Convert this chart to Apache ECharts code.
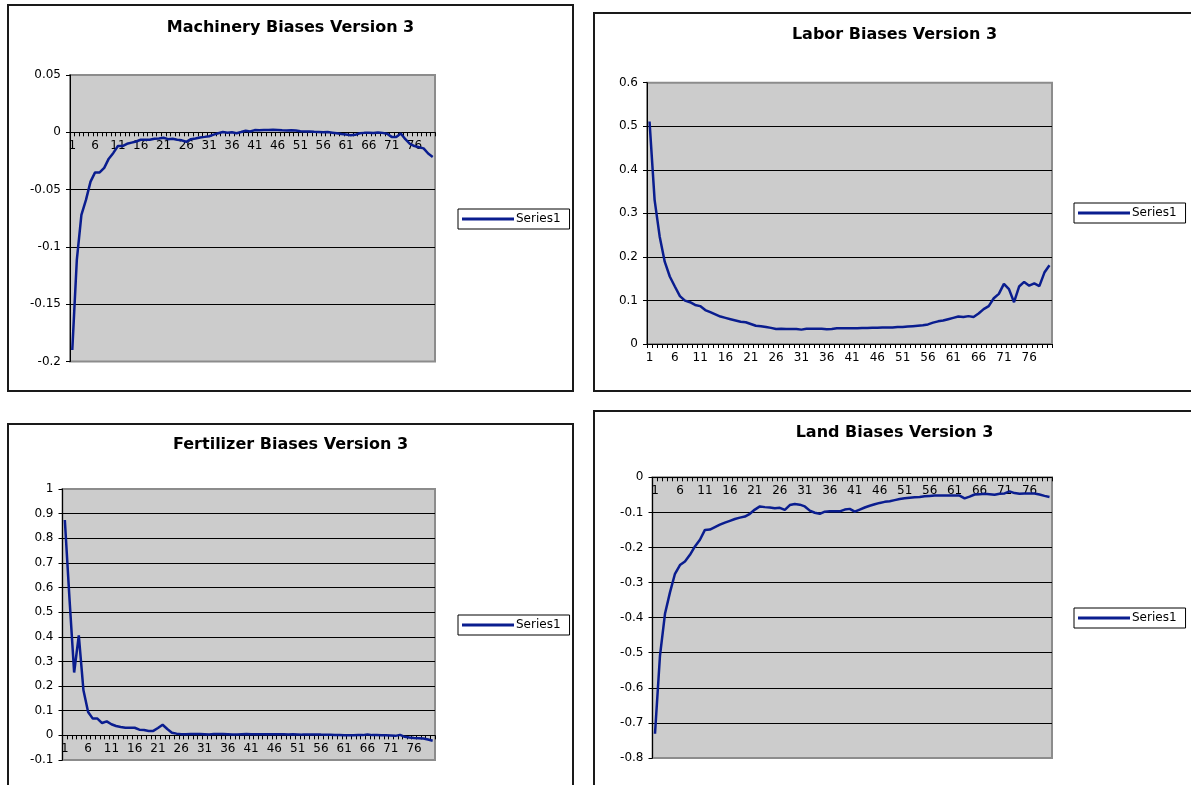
<!DOCTYPE html>
<html>
<head>
<meta charset="utf-8">
<script src="https://cdn.jsdelivr.net/npm/echarts@6/dist/echarts.min.js"></script>
<style>
  html, body { margin: 0; padding: 0; background: #fff; overflow: hidden; }
  body { width: 1191px; height: 785px; position: relative; }
  .panel { position: absolute; box-sizing: border-box; border: 2px solid #1a1a1a; background: #fff; }
  .panel > div { width: 100%; height: 100%; }
</style>
</head>
<body>
<div class="panel" id="p1" style="left:7px;top:4px;width:567px;height:388px"><div id="c1"></div></div>
<div class="panel" id="p2" style="left:593px;top:12px;width:603px;height:380px"><div id="c2"></div></div>
<div class="panel" id="p3" style="left:7px;top:423px;width:567px;height:380px"><div id="c3"></div></div>
<div class="panel" id="p4" style="left:593px;top:410px;width:603px;height:390px"><div id="c4"></div></div>
<script>
// Period labels 1..80 on the category axes
const periods = [
  '1','2','3','4','5','6','7','8','9','10','11','12','13','14','15','16','17','18','19','20',
  '21','22','23','24','25','26','27','28','29','30','31','32','33','34','35','36','37','38','39','40',
  '41','42','43','44','45','46','47','48','49','50','51','52','53','54','55','56','57','58','59','60',
  '61','62','63','64','65','66','67','68','69','70','71','72','73','74','75','76','77','78','79','80'
];

// Series1 values per input
const machinery = [
  -0.190,-0.111,-0.072,-0.059,-0.043,-0.035,-0.035,-0.031,-0.023,-0.018,
  -0.012,-0.012,-0.010,-0.009,-0.008,-0.0065,-0.0065,-0.0065,-0.0057,-0.0054,
  -0.0048,-0.006,-0.0057,-0.0065,-0.007,-0.0083,-0.006,-0.0054,-0.0045,-0.004,
  -0.0034,-0.002,-0.0008,0.0002,-0.0003,0.0,-0.0008,0.0002,0.0013,0.0007,
  0.0019,0.0018,0.002,0.002,0.0022,0.002,0.0017,0.0015,0.0017,0.0015,
  0.001,0.0007,0.0006,0.0004,0.0003,0.0,0.0002,-0.0003,-0.0008,-0.0015,
  -0.002,-0.0025,-0.0022,-0.0008,-0.0005,-0.0003,-0.0006,-0.0001,-0.0005,-0.0012,
  -0.004,-0.004,-0.001,-0.006,-0.010,-0.012,-0.013,-0.014,-0.0185,-0.0215
];
const labor = [
  0.511,0.331,0.247,0.189,0.155,0.132,0.110,0.0996,0.096,0.0897,
  0.087,0.078,0.073,0.068,0.063,0.060,0.057,0.054,0.051,0.050,
  0.046,0.042,0.041,0.039,0.037,0.0345,0.035,0.0345,0.0345,0.0345,
  0.033,0.035,0.035,0.035,0.035,0.034,0.0345,0.036,0.036,0.036,
  0.036,0.036,0.037,0.037,0.0375,0.0375,0.038,0.038,0.038,0.039,
  0.039,0.040,0.041,0.042,0.043,0.045,0.049,0.052,0.054,0.057,
  0.060,0.063,0.062,0.064,0.062,0.070,0.080,0.087,0.105,0.115,
  0.138,0.126,0.096,0.132,0.1425,0.134,0.139,0.133,0.164,0.181
];
const fertilizer = [
  0.874,0.555,0.255,0.406,0.183,0.095,0.068,0.068,0.050,0.057,
  0.045,0.038,0.034,0.031,0.031,0.031,0.023,0.022,0.018,0.018,
  0.030,0.043,0.026,0.011,0.007,0.005,0.005,0.006,0.006,0.006,
  0.005,0.004,0.006,0.006,0.006,0.005,0.004,0.004,0.005,0.006,
  0.005,0.005,0.005,0.005,0.005,0.005,0.005,0.005,0.004,0.005,
  0.004,0.003,0.003,0.003,0.003,0.003,0.002,0.002,0.001,0.001,
  0.0,0.0,0.0,0.001,0.001,0.004,0.001,0.001,0.0,0.0,
  -0.001,-0.002,0.002,-0.006,-0.009,-0.011,-0.012,-0.013,-0.017,-0.022
];
const land = [
  -0.731,-0.508,-0.389,-0.328,-0.275,-0.250,-0.240,-0.221,-0.197,-0.178,
  -0.150,-0.149,-0.142,-0.135,-0.129,-0.124,-0.119,-0.115,-0.112,-0.104,
  -0.092,-0.083,-0.085,-0.086,-0.088,-0.087,-0.093,-0.079,-0.076,-0.078,
  -0.083,-0.095,-0.101,-0.104,-0.098,-0.097,-0.097,-0.097,-0.092,-0.090,
  -0.098,-0.092,-0.086,-0.081,-0.077,-0.073,-0.070,-0.068,-0.065,-0.062,
  -0.060,-0.058,-0.057,-0.056,-0.054,-0.053,-0.052,-0.052,-0.052,-0.052,
  -0.052,-0.052,-0.060,-0.055,-0.049,-0.048,-0.047,-0.048,-0.050,-0.047,
  -0.046,-0.040,-0.045,-0.047,-0.046,-0.046,-0.046,-0.049,-0.053,-0.056
];

// Value axis ranges: [min, max, step]
const machineryAxis = [-0.2, 0.05, 0.05];
const laborAxis = [0, 0.6, 0.1];
const fertilizerAxis = [-0.1, 1, 0.1];
const landAxis = [-0.8, 0, 0.1];

const FONT = 'DejaVu Sans, Verdana, sans-serif';
const LINE_COLOR = '#0a1d8f';

function buildOption(title, values, axis, layout) {
  const [yMin, yMax, yStep] = axis;
  const decimals = yStep < 0.1 ? 2 : 1;
  const plotHeight = layout.grid[3];
  // The category axis sits on the zero line, with its labels just beneath it
  const zeroShift = yMin < 0 ? -plotHeight * (0 - yMin) / (yMax - yMin) : 0;
  return {
    animation: false,
    backgroundColor: '#ffffff',
    title: {
      text: title,
      left: 'center',
      top: layout.titleTop,
      textStyle: { fontFamily: FONT, fontWeight: 'bold', fontSize: 16, color: '#000' }
    },
    legend: {
      left: layout.legendLeft,
      top: layout.legendTop,
      icon: 'rect',
      itemWidth: 52,
      itemHeight: 3,
      padding: [4, 9, 4, 4],
      borderColor: '#000',
      borderWidth: 1,
      textStyle: { fontFamily: FONT, fontSize: 12, color: '#000', padding: [0, 0, 0, -3] },
      data: ['Series1']
    },
    grid: {
      left: layout.grid[0], top: layout.grid[1], width: layout.grid[2], height: plotHeight,
      show: true,
      backgroundColor: '#cccccc',
      borderColor: '#8c8c8c',
      borderWidth: 2,
      containLabel: false
    },
    xAxis: {
      type: 'category',
      data: periods,
      boundaryGap: true,
      position: 'bottom',
      offset: zeroShift,
      axisLine: { onZero: false, lineStyle: { color: '#000', width: 1 } },
      axisTick: { show: true, interval: 0, length: 4, lineStyle: { color: '#000' } },
      axisLabel: { interval: 4, margin: 8, fontFamily: FONT, fontSize: 12, color: '#000' },
      splitLine: { show: false }
    },
    yAxis: {
      type: 'value',
      min: yMin, max: yMax, interval: yStep,
      axisLine: { show: true, lineStyle: { color: '#000', width: 1 } },
      axisTick: { show: true, length: 4, lineStyle: { color: '#000' } },
      axisLabel: {
        margin: 9, fontFamily: FONT, fontSize: 12, color: '#000',
        formatter: v => String(+v.toFixed(decimals))
      },
      splitLine: { show: true, showMinLine: false, showMaxLine: false, lineStyle: { color: '#000', width: 1 } }
    },
    series: [{
      name: 'Series1',
      type: 'line',
      data: values,
      symbol: 'none',
      smooth: false,
      lineStyle: { color: LINE_COLOR, width: 2.5 },
      itemStyle: { color: LINE_COLOR }
    }]
  };
}

const panels = [
  ['c1', 'Machinery Biases Version 3', machinery, machineryAxis,
    { titleTop: 9, legendLeft: 449, legendTop: 203, grid: [61, 69, 365, 286.5] }],
  ['c2', 'Labor Biases Version 3', labor, laborAxis,
    { titleTop: 8, legendLeft: 479, legendTop: 189, grid: [52, 68.7, 405, 261.3] }],
  ['c3', 'Fertilizer Biases Version 3', fertilizer, fertilizerAxis,
    { titleTop: 7, legendLeft: 449, legendTop: 190, grid: [53.5, 64, 372.5, 271] }],
  ['c4', 'Land Biases Version 3', land, landAxis,
    { titleTop: 8, legendLeft: 479, legendTop: 196, grid: [57.5, 65.3, 399.5, 280.7] }]
];

panels.forEach(([id, title, values, axis, layout]) => {
  const chart = echarts.init(document.getElementById(id), null, { renderer: 'canvas' });
  chart.setOption(buildOption(title, values, axis, layout));
});
</script>
</body>
</html>
